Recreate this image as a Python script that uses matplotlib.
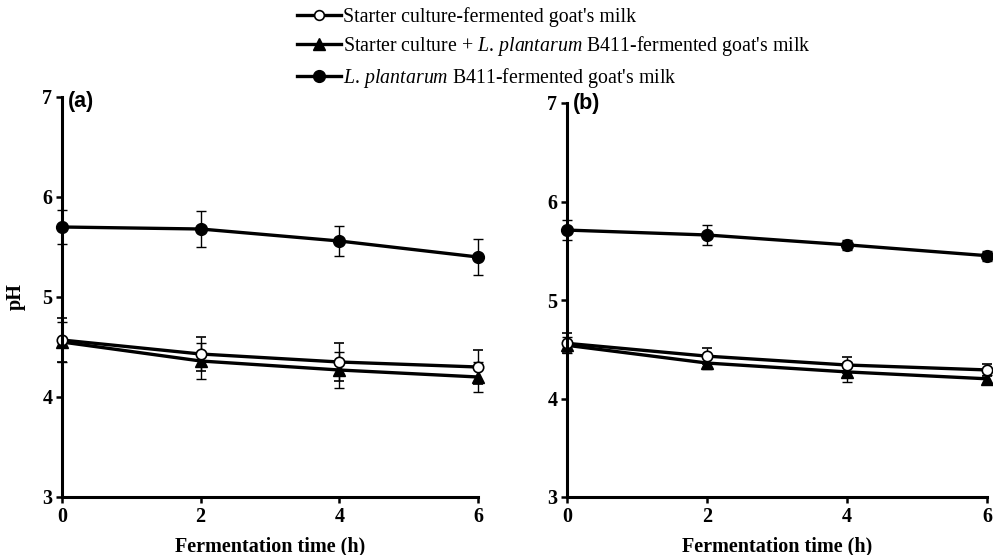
import matplotlib
matplotlib.use("Agg")
import matplotlib.pyplot as plt
from matplotlib.lines import Line2D

plt.rcParams['font.family'] = ['Liberation Serif', 'DejaVu Serif']
plt.rcParams['mathtext.fontset'] = 'custom'
plt.rcParams['mathtext.rm'] = 'Liberation Serif'
plt.rcParams['mathtext.it'] = 'Liberation Serif:italic'

time_h = [0, 2, 4, 6]
labels = ["Starter culture-fermented goat's milk",
          "Starter culture + $\\it{L.\\,plantarum}$ B411-fermented goat's milk",
          "$\\it{L.\\,plantarum}$ B411-fermented goat's milk"]

# panel (a)
a_starter = [4.57, 4.43, 4.35, 4.30]
a_starter_err = [0.22, 0.17, 0.19, 0.17]
a_mix = [4.55, 4.36, 4.27, 4.20]
a_mix_err = [0.20, 0.18, 0.18, 0.15]
a_lp = [5.70, 5.68, 5.56, 5.40]
a_lp_err = [0.17, 0.18, 0.15, 0.18]

# panel (b)
b_starter = [4.56, 4.43, 4.34, 4.29]
b_starter_err = [0.10, 0.08, 0.08, 0.06]
b_mix = [4.54, 4.36, 4.27, 4.20]
b_mix_err = [0.08, 0.06, 0.10, 0.04]
b_lp = [5.71, 5.66, 5.56, 5.45]
b_lp_err = [0.10, 0.10, 0.05, 0.05]

yticks = [3, 4, 5, 6, 7]
xticks = [0, 2, 4, 6]

fig = plt.figure(figsize=(9.93, 5.55), dpi=100)
ax_a = fig.add_axes([62/993, 1-497/555, 416/993, 400/555])
ax_b = fig.add_axes([567/993, 1-497/555, 420/993, 394/555])

panels = [
    (ax_a, "(a)", -0.01, a_starter, a_starter_err, a_mix, a_mix_err, a_lp, a_lp_err),
    (ax_b, "(b)", 0.0, b_starter, b_starter_err, b_mix, b_mix_err, b_lp, b_lp_err),
]

lw = 2.4
for ax, tag, dy, st, ste, mx, mxe, lp, lpe in panels:
    common = dict(color='black', lw=lw, elinewidth=1.0, capsize=3.5, capthick=1.0, clip_on=False)
    ax.errorbar(time_h, lp, yerr=lpe, marker='o', ms=8.5, mfc='black', mec='black', **common)
    ax.errorbar(time_h, mx, yerr=mxe, marker='^', ms=8, mfc='black', mec='black', **common)
    ax.errorbar(time_h, st, yerr=ste, marker='o', ms=7.5, mfc='white', mec='black', mew=1.2, **common)
    for obj in ax.get_children():
        try:
            obj.set_clip_on(False)
        except Exception:
            pass
    ax.set_xlim(0, 6)
    ax.set_ylim(3, 7)
    ax.set_xticks(xticks)
    ax.set_yticks(yticks)
    ax.spines['top'].set_visible(False)
    ax.spines['right'].set_visible(False)
    ax.spines['left'].set_linewidth(2.2)
    ax.spines['bottom'].set_linewidth(2.2)
    ax.tick_params(axis='both', direction='out', length=4, width=1.8, labelsize=14.5, pad=3)
    for t in ax.get_xticklabels() + ax.get_yticklabels():
        t.set_fontweight('bold')
    ax.set_xlabel("Fermentation time (h)", fontsize=14.5, fontweight='bold', labelpad=7)
    ax.text(0.015, 1.0 + dy, tag, transform=ax.transAxes, family='Liberation Sans',
            fontsize=15.5, fontweight='bold', ha='left', va='center')
    ax.patch.set_visible(False)

ax_a.set_ylabel("pH", fontsize=14.5, fontweight='bold', labelpad=12)

handles = [
    Line2D([0], [0], color='black', lw=lw, marker='o', ms=7, mfc='white', mec='black', mew=1.2),
    Line2D([0], [0], color='black', lw=lw, marker='^', ms=8, mfc='black', mec='black'),
    Line2D([0], [0], color='black', lw=lw, marker='o', ms=8.5, mfc='black', mec='black'),
]
fig.legend(handles, labels, loc='upper left', bbox_to_anchor=(290/993, 1.0),
           frameon=False, fontsize=14.3, handlelength=2.2, handletextpad=0.1,
           labelspacing=0.38, borderpad=0.35, borderaxespad=0)

fig.savefig("out.png", dpi=100)
